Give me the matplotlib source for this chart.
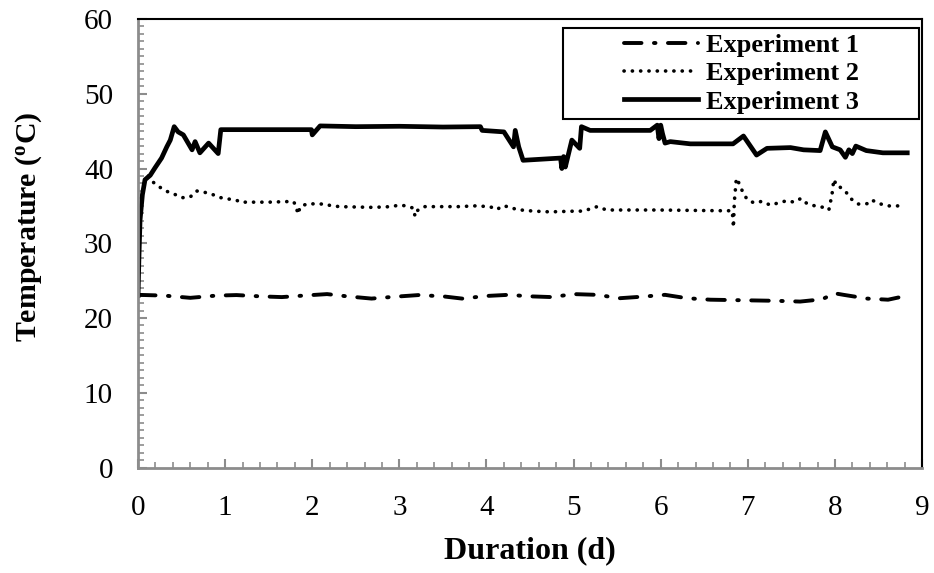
import matplotlib
matplotlib.use("Agg")
import matplotlib.pyplot as plt
from matplotlib.patches import Rectangle

# experiment 1 (dash-dot)
x1 = [0, 0.3, 0.6, 0.9, 1.13, 1.4, 1.65, 1.9, 2.17, 2.4, 2.68, 2.95, 3.22, 3.5,
      3.72, 4.0, 4.25, 4.5, 4.75, 5.0, 5.27, 5.53, 5.78, 6.05, 6.3, 6.57, 6.82,
      7.08, 7.33, 7.6, 7.85, 8.0, 8.1, 8.37, 8.61, 8.83]
y1 = [23.1, 23.0, 22.7, 23.0, 23.07, 22.9, 22.8, 23.0, 23.2, 22.9, 22.6, 22.85,
      23.07, 22.9, 22.6, 22.95, 23.1, 22.9, 22.8, 23.2, 23.1, 22.65, 22.85, 23.1,
      22.65, 22.45, 22.4, 22.35, 22.3, 22.2, 22.5, 23.3, 23.1, 22.6, 22.45, 23.0]

# experiment 2 (dotted)
x2 = [0.12, 0.17, 0.25, 0.34, 0.43, 0.51, 0.60, 0.67, 0.77, 0.86, 0.95, 1.05,
      1.14, 1.17, 1.5, 1.78, 1.82, 1.83, 1.87, 1.96, 2.05, 2.15, 2.22, 2.32,
      2.7, 2.9, 3.0, 3.08, 3.16, 3.18, 3.21, 3.28, 3.68, 3.87, 4.04, 4.12, 4.18,
      4.25, 4.35, 4.54, 4.73, 5.02, 5.11, 5.27, 5.38, 5.96, 6.72, 6.82, 6.83,
      6.835, 6.845, 6.855, 6.862, 6.87, 6.9, 6.94, 6.99, 7.07, 7.16, 7.26, 7.35,
      7.45, 7.53, 7.61, 7.68, 7.77, 7.87, 7.93, 7.95, 7.965, 7.975, 7.99, 8.02,
      8.06, 8.13, 8.19, 8.27, 8.37, 8.42, 8.51, 8.61, 8.81]
y2 = [39.0, 38.2, 37.5, 36.9, 36.5, 36.1, 36.2, 37.0, 36.8, 36.5, 36.1, 35.9,
      35.7, 35.5, 35.5, 35.6, 35.0, 33.9, 35.0, 35.3, 35.25, 35.25, 35.0, 34.9,
      34.8, 34.9, 35.1, 35.0, 34.7, 33.6, 34.4, 34.9, 34.9, 35.0, 34.9, 34.5, 35.0,
      34.9, 34.5, 34.3, 34.2, 34.3, 34.3, 34.9, 34.45, 34.45, 34.35, 34.35, 33.1,
      32.1, 35.6, 36.8, 38.0, 38.7, 38.0, 36.9, 35.9, 35.4, 35.6, 35.1, 35.4,
      35.7, 35.5, 36.0, 35.3, 35.0, 34.8, 34.45, 35.6, 36.3, 37.5, 38.55, 37.6,
      37.5, 36.8, 35.9, 35.25, 35.3, 35.8, 35.3, 35.0, 35.0]

# experiment 3 (solid)
x3 = [0, 0.01, 0.023, 0.05, 0.08, 0.14, 0.195, 0.27, 0.33, 0.37, 0.415, 0.46,
      0.52, 0.62, 0.655, 0.71, 0.81, 0.92, 0.95, 1.99, 2.0, 2.09, 2.5, 3.0, 3.5,
      3.93, 3.95, 4.2, 4.31, 4.33, 4.37, 4.42, 4.85, 4.865, 4.885, 4.905, 4.98,
      5.07, 5.09, 5.19, 5.45, 5.88, 5.96, 5.98, 6.0, 6.02, 6.05, 6.11, 6.34,
      6.83, 6.95, 7.1, 7.22, 7.49, 7.64, 7.83, 7.89, 7.97, 8.06, 8.12, 8.16, 8.2,
      8.24, 8.36, 8.55, 8.83]
y3 = [23.0, 28.0, 33.1, 36.5, 38.5, 39.1, 40.1, 41.4, 42.9, 43.8, 45.6, 44.9,
      44.5, 42.5, 43.6, 42.1, 43.4, 42.0, 45.2, 45.2, 44.5, 45.7, 45.6, 45.65,
      45.55, 45.6, 45.1, 44.9, 42.9, 45.1, 42.9, 41.1, 41.4, 40.0, 41.6, 40.2,
      43.8, 42.7, 45.6, 45.1, 45.1, 45.1, 45.8, 44.0, 45.8, 44.7, 43.4, 43.6,
      43.3, 43.3, 44.35, 41.8, 42.7, 42.8, 42.5, 42.4, 44.9, 42.9, 42.5, 41.5,
      42.5, 42.0, 43.0, 42.4, 42.1, 42.1]

labels = ['Experiment 1', 'Experiment 2', 'Experiment 3']

plt.rcParams['font.family'] = ['Liberation Serif', 'DejaVu Serif']
plt.rcParams['mathtext.fontset'] = 'custom'
plt.rcParams['mathtext.rm'] = 'Liberation Serif'
plt.rcParams['mathtext.bf'] = 'Liberation Serif:bold'

fig = plt.figure(figsize=(9.34, 5.73), dpi=100)
ax = fig.add_axes([0.1478, 0.1841, 0.8394, 0.7827])

l1, = ax.plot(x1, y1, color='black', lw=2.8, dashes=(4.5, 3.2, 0.4, 3.2),
              dash_capstyle='round')
l2, = ax.plot(x2, y2, color='black', lw=2.6, dashes=(0.05, 2.25),
              dash_capstyle='round')
l3, = ax.plot(x3, y3, color='black', lw=3.4, solid_joinstyle='round')

ax.set_xlim(0, 9)
ax.set_ylim(0, 60)
ax.set_xticks(range(0, 10))
ax.set_yticks(range(0, 61, 10))
ax.set_xticks([i * 0.2 for i in range(46)], minor=True)
ax.set_yticks(range(0, 61), minor=True)

grey = '#8c8c8c'
for s in ['left', 'bottom']:
    ax.spines[s].set_color(grey)
    ax.spines[s].set_linewidth(2.0)
for s in ['top', 'right']:
    ax.spines[s].set_color('black')
    ax.spines[s].set_linewidth(1.5)

ax.tick_params(which='major', direction='in', length=6.5, width=1.5,
               color=grey, labelsize=21, pad=18)
ax.tick_params(which='minor', direction='in', length=4.2, width=1.2, color=grey)
ax.tick_params(axis='x', which='major', pad=20)

ax.set_xlabel('Duration (d)', fontsize=23, fontweight='bold', labelpad=11)
ax.set_ylabel('Temperature ($\\mathbf{^{o}}$C)', fontsize=21.5, fontweight='bold')
ax.yaxis.set_label_coords(-0.12, 0.536)

# legend box
ax.add_patch(Rectangle((0.542, 0.777), 0.454, 0.203, transform=ax.transAxes,
                       fill=False, edgecolor='black', lw=1.5, zorder=5))
leg = ax.legend([l1, l2, l3], labels, loc='center', bbox_to_anchor=(0.77, 0.878),
                frameon=False, prop={'weight': 'bold', 'size': 19},
                handlelength=2.8, handletextpad=0.3, labelspacing=0.18,
                borderpad=0)

fig.savefig('out.png', dpi=100)
